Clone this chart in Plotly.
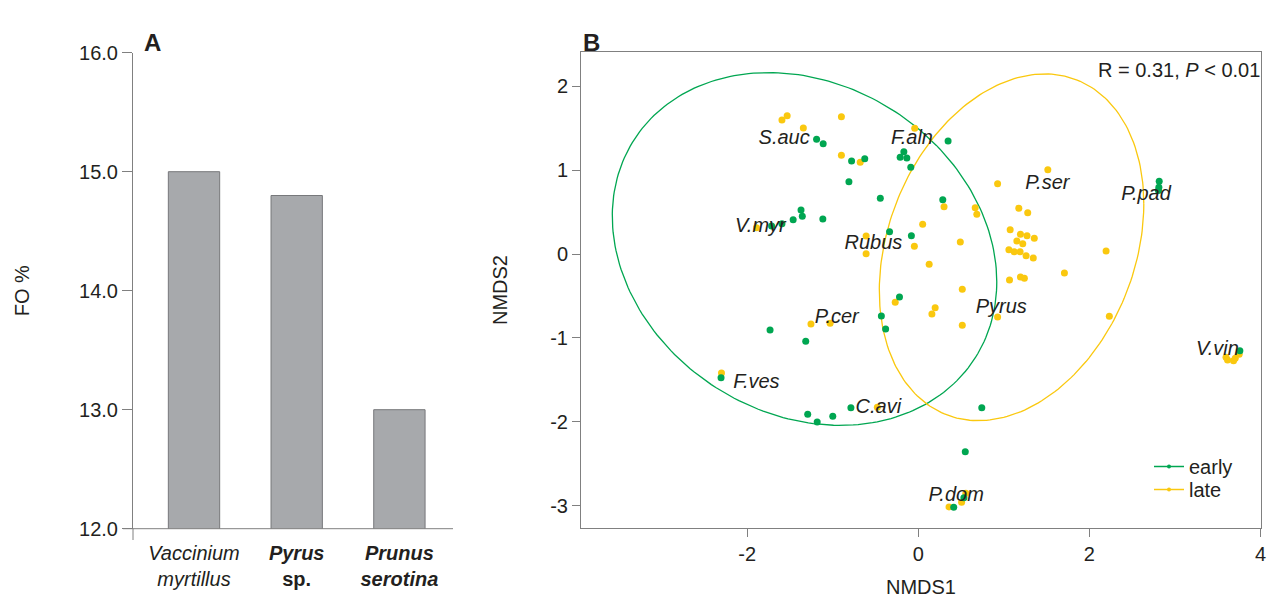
import numpy as np
import plotly.graph_objects as go

W, H = 1269, 598

# ---------------- Panel A data ----------------
bar_categories = ["Vaccinium myrtillus", "Pyrus sp.", "Prunus serotina"]
bar_tick_labels = ["<i>Vaccinium</i><br><i>myrtillus</i>",
                   "<b><i>Pyrus</i></b><br><b>sp.</b>",
                   "<b><i>Prunus</i></b><br><b><i>serotina</i></b>"]
fo_values = [15.0, 14.8, 13.0]
fo_ticks = [12.0, 13.0, 14.0, 15.0, 16.0]

# ---------------- Panel B data ----------------
early_x = [-1.189, -1.112, -0.780, -0.626, -0.811, -0.444, -1.371, -1.356, -1.463, -1.594,
           -1.116, -1.715, -0.336, 0.348, -0.169, -0.212, -0.134, -0.088, 0.286, -0.081,
           -0.220, -0.432, -0.382, -1.733, -1.316, -2.306, -1.293, -1.182, -1.000, -0.788,
           0.742, 0.549, 0.414, 0.533, 2.816, 2.812, 2.807, 3.759]
early_y = [1.367, 1.315, 1.108, 1.136, 0.862, 0.664, 0.524, 0.449, 0.409, 0.361,
           0.417, 0.334, 0.266, 1.347, 1.219, 1.153, 1.144, 1.033, 0.647, 0.218,
           -0.513, -0.739, -0.894, -0.906, -1.041, -1.474, -1.911, -2.002, -1.934, -1.832,
           -1.832, -2.356, -3.019, -2.905, 0.866, 0.795, 0.757, -1.153]

late_x = [-1.594, -1.533, -1.344, -0.899, -0.899, -0.679, -1.892, -0.610, -0.610, -0.042,
          1.514, 0.927, 0.301, 0.665, 0.684, 1.175, 1.279, 0.051, 1.074, 1.194,
          1.271, 1.356, 1.152, 1.221, -0.046, 0.491, 1.059, 1.121, 1.190, 1.260,
          1.344, 2.195, 0.127, 1.708, 1.066, 1.194, 1.240, 0.514, -0.270, 0.197,
          0.159, 0.514, 0.927, 2.233, -1.255, -1.031, -2.301, -0.479, 3.615, 3.685,
          3.751, 3.705, 3.597, 0.359, 0.506, 0.556]
late_y = [1.597, 1.648, 1.502, 1.636, 1.176, 1.093, 0.313, 0.215, 0.004, 1.498,
          1.005, 0.838, 0.564, 0.552, 0.473, 0.545, 0.492, 0.354, 0.290, 0.235,
          0.218, 0.187, 0.155, 0.123, 0.092, 0.143, 0.051, 0.027, 0.027, -0.020,
          -0.048, 0.036, -0.123, -0.226, -0.310, -0.274, -0.290, -0.421, -0.576, -0.640,
          -0.715, -0.850, -0.751, -0.743, -0.834, -0.826, -1.418, -1.827, -1.263, -1.272,
          -1.195, -1.243, -1.231, -3.015, -2.959, -2.852]

species_labels = ["S.auc", "F.aln", "P.ser", "P.pad", "V.myr", "Rubus",
                  "Pyrus", "P.cer", "F.ves", "C.avi", "V.vin", "P.dom"]
species_x = [-1.568, -0.073, 1.509, 2.662, -1.846, -0.525, 0.970, -0.954, -1.892, -0.467, 3.496, 0.443]
species_y = [1.371, 1.371, 0.834, 0.703, 0.322, 0.119, -0.644, -0.763, -1.538, -1.836, -1.144, -2.884]

# ellipse parameters: centre and covariance (xx, xy, yy)
early_ell_center = [-1.33, 0.06]
early_ell_cov = [5.05, -0.88, 4.42]
late_ell_center = [1.09, 0.08]
late_ell_cov = [2.39, 0.80, 4.27]

nmds_x_ticks = [-2, 0, 2, 4]
nmds_x_ticktext = ["-2", "0", "2", "4"]
nmds_y_ticks = [-3, -2, -1, 0, 1, 2]
nmds_y_ticktext = ["-3", "-2", "-1", "0", "1", "2"]

GREEN = "#00A651"
YELLOW = "#FAC80F"
TXT = "#231F20"
AX = "#808080"
FONT = "Liberation Sans, Arial, sans-serif"


def ellipse(center, cov, n=240):
    S = np.array([[cov[0], cov[1]], [cov[1], cov[2]]])
    L = np.linalg.cholesky(S)
    t = np.linspace(0, 2 * np.pi, n)
    pts = L @ np.vstack([np.cos(t), np.sin(t)])
    return pts[0] + center[0], pts[1] + center[1]


def px_x(p):
    return p / W


def px_y(p):
    return 1 - p / H


fig = go.Figure()

# Panel A bars
fig.add_trace(go.Bar(
    x=bar_categories, y=fo_values, xaxis="x", yaxis="y",
    marker=dict(color="#A7A9AC", line=dict(color="#77787B", width=1)),
    width=0.5, showlegend=False, hoverinfo="x+y"))

# Panel B ellipses
ex, ey = ellipse(early_ell_center, early_ell_cov)
lx, ly = ellipse(late_ell_center, late_ell_cov)
fig.add_trace(go.Scatter(x=ex, y=ey, mode="lines", xaxis="x2", yaxis="y2",
                         line=dict(color=GREEN, width=1.3), showlegend=False, hoverinfo="skip"))
fig.add_trace(go.Scatter(x=lx, y=ly, mode="lines", xaxis="x2", yaxis="y2",
                         line=dict(color=YELLOW, width=1.3), showlegend=False, hoverinfo="skip"))

# points
fig.add_trace(go.Scatter(x=late_x, y=late_y, mode="markers", xaxis="x2", yaxis="y2",
                         marker=dict(color=YELLOW, size=7), showlegend=False, name="late"))
fig.add_trace(go.Scatter(x=early_x, y=early_y, mode="markers", xaxis="x2", yaxis="y2",
                         marker=dict(color=GREEN, size=7), showlegend=False, name="early"))

# species labels
fig.add_trace(go.Scatter(x=species_x, y=species_y, mode="text", xaxis="x2", yaxis="y2",
                         text=["<i>%s</i>" % s for s in species_labels],
                         textfont=dict(family=FONT, size=20, color=TXT),
                         showlegend=False, hoverinfo="skip"))

# legend entries (one legend each, to control spacing)
fig.add_trace(go.Scatter(x=[None], y=[None], mode="lines+markers", xaxis="x2", yaxis="y2",
                         name="early", line=dict(color=GREEN, width=1.5),
                         marker=dict(color=GREEN, size=4), legend="legend"))
fig.add_trace(go.Scatter(x=[None], y=[None], mode="lines+markers", xaxis="x2", yaxis="y2",
                         name="late", line=dict(color=YELLOW, width=1.5),
                         marker=dict(color=YELLOW, size=4), legend="legend2"))

tickfont = dict(family=FONT, size=20, color=TXT)
legend_common = dict(xanchor="left", yanchor="top",
                     font=dict(family=FONT, size=20, color=TXT), bgcolor="rgba(0,0,0,0)",
                     itemwidth=30)

fig.update_layout(
    width=W, height=H,
    margin=dict(l=0, r=0, t=0, b=0, autoexpand=False),
    paper_bgcolor="white", plot_bgcolor="white",
    font=dict(family=FONT, size=20, color=TXT),
    xaxis=dict(domain=[px_x(133), px_x(453)], range=[-0.594, 2.522], type="category",
               tickvals=bar_categories, ticktext=bar_tick_labels,
               ticks="outside", ticklen=6, tickcolor="rgba(0,0,0,0)",
               showline=False, showgrid=False, zeroline=False, tickfont=tickfont,
               fixedrange=True, automargin=False),
    yaxis=dict(domain=[px_y(528.7), px_y(52.7)], range=[12, 16],
               tickvals=fo_ticks, tickformat=".1f",
               ticks="outside", ticklen=10, tickcolor=AX, showline=True, linecolor=AX,
               linewidth=1, showgrid=False, zeroline=False, tickfont=tickfont,
               automargin=False,
               title=dict(text="FO %", font=dict(family=FONT, size=20, color=TXT), standoff=44)),
    xaxis2=dict(domain=[px_x(581), px_x(1261)], range=[-3.943, 4.006], anchor="y2",
                tickvals=nmds_x_ticks, ticktext=nmds_x_ticktext,
                ticks="outside", ticklen=8, tickcolor=AX,
                showline=True, linecolor=AX, linewidth=1, mirror=True,
                showgrid=False, zeroline=False, tickfont=tickfont, automargin=False,
                ticklabeloverflow="allow",
                title=dict(text="NMDS1", font=dict(family=FONT, size=20, color=TXT), standoff=21)),
    yaxis2=dict(domain=[px_y(528), px_y(52)], range=[-3.266, 2.408], anchor="x2",
                tickvals=nmds_y_ticks, ticktext=nmds_y_ticktext,
                ticks="outside", ticklen=8, tickcolor=AX,
                showline=True, linecolor=AX, linewidth=1, mirror=True,
                showgrid=False, zeroline=False, tickfont=tickfont, automargin=False,
                title=dict(text="NMDS2", font=dict(family=FONT, size=20, color=TXT), standoff=37)),
    legend=dict(x=px_x(1149), y=px_y(447), **legend_common),
    legend2=dict(x=px_x(1149), y=px_y(470), **legend_common),
    showlegend=True,
    bargap=0.5,
)

# Panel A axis lines: baseline and y-axis extension below baseline
fig.add_shape(type="line", xref="x domain", yref="y domain",
              x0=(123 - 133) / 320, x1=1, y0=0, y1=0, line=dict(color=AX, width=1))
fig.add_shape(type="line", xref="x domain", yref="y domain",
              x0=0, x1=0, y0=0, y1=-(540 - 528.7) / 476, line=dict(color=AX, width=1))

# Panel letters and statistic
fig.add_annotation(text="<b>A</b>", x=px_x(142), y=px_y(27), xref="paper", yref="paper",
                   showarrow=False, font=dict(family=FONT, size=24, color=TXT))
fig.add_annotation(text="<b>B</b>", x=px_x(591), y=px_y(27), xref="paper", yref="paper",
                   showarrow=False, font=dict(family=FONT, size=24, color=TXT))
fig.add_annotation(text="R = 0.31, <i>P</i> &lt; 0.01", x=px_x(1262), y=px_y(70),
                   xref="paper", yref="paper", xanchor="right", yanchor="middle",
                   showarrow=False, font=dict(family=FONT, size=20, color=TXT))

fig.write_html("out.html", config={"displayModeBar": False},
               post_script="document.body.style.margin='0';document.body.style.overflow='hidden';")
